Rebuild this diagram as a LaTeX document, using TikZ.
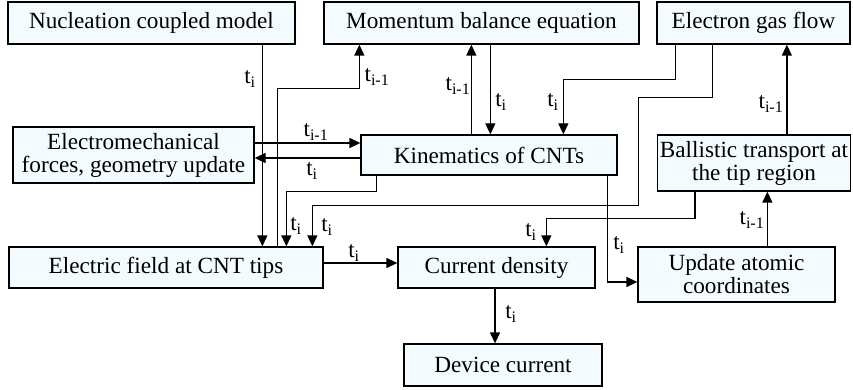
\documentclass[tikz,border=0pt]{standalone}
\usepackage{fontspec}
\setmainfont{Liberation Serif}
\usetikzlibrary{arrows.meta}
\definecolor{boxfill}{RGB}{244,251,255}
\tikzset{
  box/.style={draw=black, line width=1.3pt, fill=boxfill, align=center, inner sep=0pt,
    font=\fontsize{23.2}{23}\selectfont},
  arr/.style={line width=1.3pt, -{Triangle[length=11pt,width=10pt]}},
  lab/.style={font=\fontsize{23}{24}\selectfont, inner sep=1pt}
}
\newcommand{\ti}{t\textsubscript{i}}
\newcommand{\tim}{t\textsubscript{i-1}}
\begin{document}
\begin{tikzpicture}[x=1pt,y=-1pt]
\useasboundingbox (0,0) rectangle (853,390);
% boxes
\node[box, minimum width=287pt, minimum height=42pt] (nuc) at (151.5,23) {Nucleation coupled model};
\node[box, minimum width=315pt, minimum height=42pt] (mom) at (481.5,23) {Momentum balance equation};
\node[box, minimum width=193pt, minimum height=42pt] (egf) at (753.5,23) {Electron gas flow};
\node[box, minimum width=241pt, minimum height=56pt] (emf) at (133.5,155) {Electromechanical\\forces, geometry update};
\node[box, minimum width=256pt, minimum height=40pt] (kin) at (489,155) {Kinematics of CNTs};
\node[box, minimum width=193pt, minimum height=56pt] (bal) at (754,163) {Ballistic transport at\\the tip region};
\node[box, minimum width=314pt, minimum height=41pt] (efd) at (166,267.5) {Electric field at CNT tips};
\node[box, minimum width=197pt, minimum height=41pt] (cur) at (496.5,267.5) {Current density};
\node[box, minimum width=197pt, minimum height=55pt] (upd) at (736.5,274.5) {Update atomic\\coordinates};
\node[box, minimum width=198pt, minimum height=42pt] (dev) at (503,365) {Device current};
% connectors
\draw[arr] ([xshift=255pt]nuc.south west) -- ([xshift=255pt]nuc.south west |- efd.north);
\draw[arr] ([xshift=269pt]efd.north west) -- ++(0,-158) -| ([xshift=36pt]mom.south west);
\draw[arr] ([xshift=111pt]kin.north west) -- ([xshift=111pt]kin.north west |- mom.south);
\draw[arr] ([xshift=167pt]mom.south west) -- ([xshift=167pt]mom.south west |- kin.north);
\draw[arr] ([xshift=19pt]egf.south west) -- ++(0,35) -| ([xshift=203pt]kin.north west);
\draw[arr] ([xshift=56pt]egf.south west) -- ++(0,53) -- ++(-74,0) -- ++(0,108) -| ([xshift=304pt]efd.north west);
\draw[arr] ([yshift=12pt]emf.east) -- ([yshift=12pt]emf.east -| kin.west);
\draw[arr] ([yshift=-3pt]kin.west) -- ([yshift=-3pt]kin.west -| emf.east);
\draw[arr] ([xshift=16pt]kin.south west) -- ++(0,16) -| ([xshift=278pt]efd.north west);
\draw[arr] ([yshift=4.5pt]efd.east) -- ([yshift=4.5pt]efd.east -| cur.west);
\draw[arr] ([xshift=-1.5pt]cur.south) -- ([xshift=-1.5pt]cur.south |- dev.north);
\draw[arr] ([xshift=38pt]bal.south west) -- ++(0,27) -| ([xshift=149pt]cur.north west);
\draw[arr] ([xshift=247pt]kin.south west) |- ([yshift=-7.5pt]upd.west);
\draw[arr] ([xshift=130pt]upd.north west) -- ([xshift=130pt]upd.north west |- bal.south);
\draw[arr] ([xshift=130pt]bal.north west) -- ([xshift=130pt]bal.north west |- egf.south);
% labels
\node[lab] (l1) at (250,79) {\ti};
\node[lab] (l2) at (377,77) {\tim};
\node[lab] (l3) at (458,86) {\tim};
\node[lab] (l4) at (501,102) {\ti};
\node[lab] (l5) at (553,102) {\ti};
\node[lab] (l6) at (771,104) {\tim};
\node[lab] (l7) at (316,132) {\tim};
\node[lab] (l8) at (312,171) {\ti};
\node[lab] (l9) at (296,226) {\ti};
\node[lab] (l10) at (327,227) {\ti};
\node[lab] (l11) at (354,253) {\ti};
\node[lab] (l12) at (511,314) {\ti};
\node[lab] (l13) at (531,232) {\ti};
\node[lab] (l14) at (619,245) {\ti};
\node[lab] (l15) at (752,220) {\tim};
\end{tikzpicture}
\end{document}
